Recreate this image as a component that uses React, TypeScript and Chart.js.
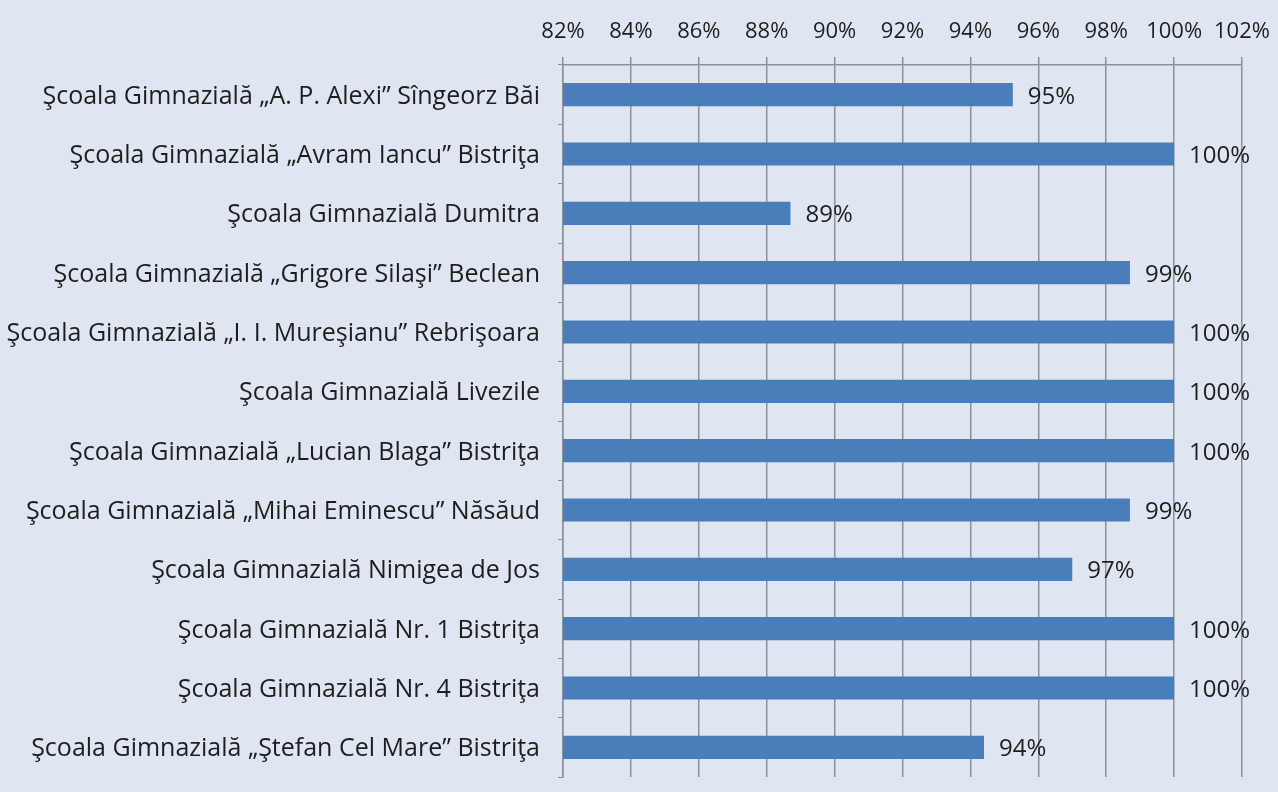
import React, { useEffect, useRef } from "react";
import { Chart, registerables } from "chart.js";

Chart.register(...registerables);

const schools: string[] = [
  "Şcoala Gimnazială „A. P. Alexi” Sîngeorz Băi",
  "Şcoala Gimnazială „Avram Iancu” Bistriţa",
  "Şcoala Gimnazială Dumitra",
  "Şcoala Gimnazială „Grigore Silaşi” Beclean",
  "Şcoala Gimnazială „I. I. Mureşianu” Rebrişoara",
  "Şcoala Gimnazială Livezile",
  "Şcoala Gimnazială „Lucian Blaga” Bistriţa",
  "Şcoala Gimnazială „Mihai Eminescu” Năsăud",
  "Şcoala Gimnazială Nimigea de Jos",
  "Şcoala Gimnazială Nr. 1 Bistriţa",
  "Şcoala Gimnazială Nr. 4 Bistriţa",
  "Şcoala Gimnazială „Ştefan Cel Mare” Bistriţa",
];

const promotionRate: number[] = [95.25, 100, 88.7, 98.7, 100, 100, 100, 98.7, 97.0, 100, 100, 94.4];

const axisMin = 82;
const axisMax = 102;
const axisStep = 2;

const FONT = "'Open Sans', Lato, sans-serif";
const TEXT = "#1e1e1e";
const GRID = "#8b919a";
const BAR = "#4a7ebb";
const BG = "#dfe6f1";

const valueLabels = {
  id: "valueLabels",
  afterDatasetsDraw(chart: any) {
    const ctx = chart.ctx;
    const meta = chart.getDatasetMeta(0);
    ctx.save();
    ctx.font = `24px ${FONT}`;
    ctx.fillStyle = TEXT;
    ctx.textAlign = "left";
    ctx.textBaseline = "middle";
    meta.data.forEach((bar: any, i: number) => {
      ctx.fillText(Math.round(promotionRate[i]) + "%", bar.x + 15, bar.y + 2);
    });
    ctx.restore();
  },
};

export default function App() {
  const ref = useRef<HTMLCanvasElement | null>(null);
  useEffect(() => {
    document.body.style.background = BG;
    const chart = new Chart(ref.current as HTMLCanvasElement, {
      type: "bar",
      data: {
        labels: schools,
        datasets: [
          {
            data: promotionRate,
            backgroundColor: BAR,
            barPercentage: 0.39,
            categoryPercentage: 1,
          },
        ],
      },
      options: {
        indexAxis: "y",
        animation: false,
        responsive: true,
        maintainAspectRatio: false,
        layout: { padding: { left: 0, top: 0, right: 36, bottom: 5 } },
        plugins: { legend: { display: false }, tooltip: { enabled: false } },
        scales: {
          x: {
            position: "top",
            min: axisMin,
            max: axisMax,
            ticks: {
              stepSize: axisStep,
              font: { family: FONT, size: 22 },
              color: TEXT,
              padding: 12,
              maxRotation: 0,
              autoSkip: false,
              callback: (v: any) => v + "%",
            },
            grid: { color: GRID, lineWidth: 1.5, tickLength: 8 },
            border: { display: true, color: GRID, width: 1.5 },
            afterFit: (s: any) => {
              s.height = 65;
              s.paddingLeft = 0;
              s.paddingRight = 0;
            },
          },
          y: {
            ticks: {
              font: { family: FONT, size: 25 },
              color: TEXT,
              padding: 18,
              autoSkip: false,
              labelOffset: 2,
            },
            grid: { drawOnChartArea: false, color: GRID, lineWidth: 1, tickLength: 5 },
            border: { display: true, color: GRID, width: 1.5 },
            afterFit: (s: any) => {
              s.width = 563;
            },
          },
        },
      },
      plugins: [valueLabels],
    });
    return () => chart.destroy();
  }, []);
  return (
    <div style={{ position: "fixed", left: 0, top: 0, width: 1278, height: 810, background: BG }}>
      <canvas ref={ref} />
    </div>
  );
}
